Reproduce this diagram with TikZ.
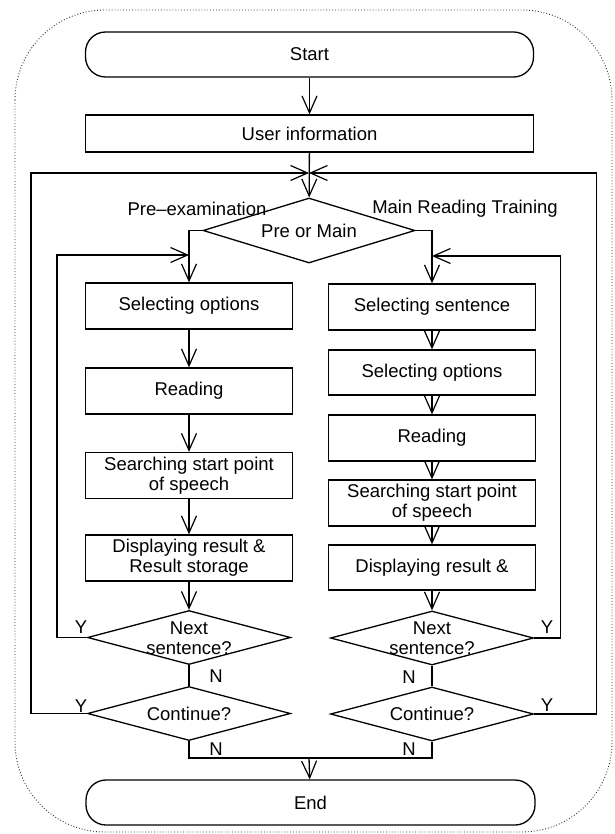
\documentclass[tikz,border=0pt]{standalone}
\usepackage{fontspec}
\setmainfont{Liberation Sans}
\usetikzlibrary{shapes.geometric,arrows.meta,positioning,calc}
\newcommand{\dtext}[1]{\smash{\raisebox{-7pt}{\begin{tabular}{@{}c@{}}#1\end{tabular}}}}

\begin{document}
\begin{tikzpicture}[x=1pt,y=-1pt,
    font=\fontsize{18.5}{20}\selectfont,
    line width=1.3pt,
    term/.style={draw, rectangle, rounded corners=20pt, minimum width=448pt, minimum height=45pt, inner sep=0pt},
    box/.style={draw, rectangle, align=center, minimum width=207pt, minimum height=46pt, inner sep=0pt},
    decision/.style={draw, diamond, aspect=3.7, minimum width=203pt, minimum height=54pt, inner sep=0pt},
    flow/.style={-{Straight Barb[length=17pt,width=15pt,line width=1.2pt]}}]
    \useasboundingbox (0,0) rectangle (614,834);
    \draw[dotted, line width=0.9pt, black!80, rounded corners=90pt] (15,10) rectangle (612,832);

    \node[term] (start) at (309.5,54.5) {Start};
    \node[box, minimum width=448pt, minimum height=37pt] (user) at (309.5,133.5) {User information};
    \node[decision, aspect=3.26, minimum width=212pt, minimum height=65pt] (pm) at (309,230.5) {\dtext{Pre or Main}};
    \node (pre) at (197,209) {Pre–examination};
    \node (main) at (465,209) {Main Reading Training};

    % pre-examination column
    \node[box] (lopt) at (189,306) {Selecting options};
    \node[box] (lread) at (189,391) {Reading};
    \node[box] (lsrch) at (189,475.5) {Searching start point\\of speech};
    \node[box] (ldisp) at (189,558) {Displaying result \&\\Result storage};
    \node[decision] (lnext) at (189,637.5) {\dtext{Next\\sentence?}};
    \node[decision] (lcont) at (189,713.5) {\dtext{Continue?}};

    % main reading training column
    \node[box] (rsent) at (432,307) {Selecting sentence};
    \node[box, minimum height=45pt] (ropt) at (432,372.5) {Selecting options};
    \node[box] (rread) at (432,438) {Reading};
    \node[box] (rsrch) at (432,503) {Searching start point\\of speech};
    \node[box, minimum height=45pt] (rdisp) at (432,567.5) {Displaying result \&};
    \node[decision] (rnext) at (432,638) {\dtext{Next\\sentence?}};
    \node[decision] (rcont) at (432,714) {\dtext{Continue?}};

    \node[term, minimum width=449pt] (end) at (310.5,802.5) {End};

    \coordinate (cross) at (309,173);
    \coordinate (ljoin) at (189,255);
    \coordinate (rjoin) at (432,256);
    \coordinate (merge) at (309,758);

    \draw[flow] (start) -- (user);
    \draw[flow] (user) -- (pm);
    \draw[flow] (lcont.west) -- ++(-56,0) |- (cross);
    \draw[flow] (rcont.east) -- ++(62,0) |- (cross);
    \draw[flow] (pm.west) -| (lopt.north);
    \draw[flow] (pm.east) -| (rsent.north);
    \draw[flow] (lnext.west) -- ++(-30,0) |- (ljoin);
    \draw[flow] (rnext.east) -- ++(26,0) |- (rjoin);
    \foreach \a/\b in {lopt/lread, lread/lsrch, lsrch/ldisp, ldisp/lnext,
        rsent/ropt, ropt/rread, rread/rsrch, rsrch/rdisp, rdisp/rnext}
        \draw[flow] (\a) -- (\b);
    \draw (lnext) -- (lcont);
    \draw (rnext) -- (rcont);
    \draw (lcont.south) |- (merge) -| (rcont.south);
    \draw[flow] (merge) -- (end);

    \node (ly1) at (81,627) {Y};
    \node (ry1) at (547,627) {Y};
    \node (ly2) at (81,706) {Y};
    \node (ry2) at (547,705) {Y};
    \node (ln1) at (216,676) {N};
    \node (rn1) at (409,677) {N};
    \node (ln2) at (216,749) {N};
    \node (rn2) at (409,749) {N};
\end{tikzpicture}
\end{document}
